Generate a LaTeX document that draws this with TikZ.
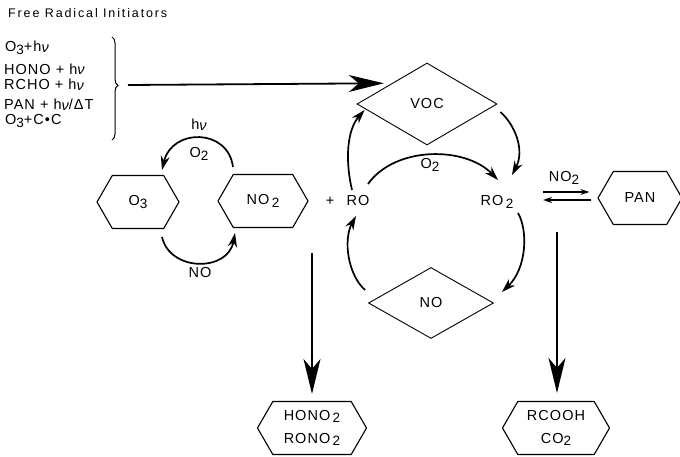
\documentclass[tikz,border=0pt]{standalone}
\usepackage{fontspec}
\setmainfont[LetterSpace=7]{Liberation Sans}
\newfontfamily\headfont[LetterSpace=15]{Liberation Sans}
\usetikzlibrary{arrows.meta,shapes.geometric,shapes.symbols,decorations.pathreplacing,calc}
\newcommand\sbs[1]{\raisebox{-2.8pt}{\fontsize{13.5}{13}\selectfont #1}}
\newcommand\hnu{h\raisebox{-1pt}{\itshape ν}}
\newcommand\hnuflat{h{\itshape ν}}
\begin{document}
\begin{tikzpicture}[x=1pt,y=-1pt,
  every node/.style={font=\fontsize{14.5}{16}\selectfont, inner sep=1pt},
  hexa/.style={draw, line width=1.1pt, signal, signal to=west and east,
    signal pointer angle=120, inner sep=0pt, minimum height=53pt},
  dia/.style={draw, line width=0.9pt, diamond, inner sep=0pt},
  listtext/.style={anchor=base west, inner sep=0pt},
  carrow/.style={line width=1.7pt, -{Stealth[length=14pt,width=9pt]}},
  sarrow/.style={line width=1.2pt, -{Stealth[length=9pt,width=6pt]}},
  bigarrow/.style={line width=1.8pt, -{Stealth[length=35pt,width=17pt,inset=10pt]}}]
\useasboundingbox (0,0) rectangle (680,457);

% title and initiators
\node[anchor=base west, font={\headfont\fontsize{12.5}{14}\selectfont}] (title) at (7,18) {Free Radical Initiators};
\node[listtext] (i1) at (5,52) {O\sbs{3}+\hnu};
\node[listtext] (i2) at (4,75) {HONO + \hnuflat};
\node[listtext] (i3) at (4,89.5) {RCHO + \hnu};
\node[listtext] (i4) at (4,110) {PAN + \hnu/ΔT};
\node[listtext] (i5) at (5,124.5) {O\sbs{3}+C•C};
\draw[line width=1pt, decorate, decoration={brace, amplitude=6pt, aspect=0.47}] (112,37) -- (112,140);
\coordinate (bt) at (128,85);

% main nodes
\node[dia, minimum width=140pt, minimum height=82pt] (voc) at (427,104) {VOC};
\node[dia, minimum width=125pt, minimum height=71pt] (no) at (431,303) {NO};
\node[hexa, minimum width=82pt] (o3) at (138,202) {O\sbs{3}};
\node[hexa, minimum width=90pt] (no2) at (263,201) {NO\,\sbs{2}};
\node[hexa, minimum width=84pt] (pan) at (640,198) {PAN};
\node[hexa, minimum width=109pt, align=center, font=\fontsize{14.5}{23}\selectfont] (hono) at (312,428) {HONO\,\sbs{2}\\RONO\,\sbs{2}};
\node[hexa, minimum width=107pt, align=center, font=\fontsize{14.5}{23}\selectfont] (rcooh) at (556,428) {RCOOH\\CO\sbs{2}};
\node (ro) at (358,201) {RO};
\node (ro2) at (497,202) {RO\,\sbs{2}};
\node (plus) at (330,201) {+};

% labels
\node (hnu) at (199,125) {\hnu};
\node (o2a) at (199,154) {O\sbs{2}};
\node (noa) at (200,273) {NO};
\node (o2b) at (430,165) {O\sbs{2}};
\node (no2b) at (564,178) {NO\sbs{2}};

% connectors
\draw[bigarrow] (bt) -- ([xshift=-8pt]voc.north west);
\draw[carrow] ($(ro)+(-6,-11)$) .. controls (345,160) and (347,130) .. ($(voc.west)+(8,6)$);
\draw[carrow] ($(ro)+(10,-17)$) .. controls (395,146) and (465,146) .. ($(ro2)+(1,-22)$);
\draw[carrow] ($(voc.east)+(3,8)$) .. controls (515,125) and (525,150) .. ($(ro2)+(15,-27)$);
\draw[carrow] ($(ro2)+(21,11)$) .. controls (528,230) and (527,268) .. ($(no.east)+(8,-11)$);
\draw[carrow] ($(no.west)+(-3,-13)$) .. controls (348,275) and (343,240) .. ($(ro)+(-2,15)$);
\draw[carrow] ($(no2)+(-30,-34)$) .. controls (228,128) and (172,128) .. ($(o3)+(24,-32)$);
\draw[carrow] ($(o3)+(24,35)$) .. controls (170,272) and (228,272) .. ($(no2)+(-28,32)$);
\draw[sarrow] ($(ro2)+(46,-10)$) -- ($(pan.west)+(-8,-6)$);
\draw[sarrow] ($(pan.west)+(-6,2)$) -- ($(ro2)+(46,-2)$);
\coordinate (s1) at (312,253);
\coordinate (s2) at (557,232);
\draw[bigarrow] (s1) -- ($(hono.north)+(0,-7)$);
\draw[bigarrow] (s2) -- ($(rcooh.north)+(1,-8)$);
\end{tikzpicture}
\end{document}
